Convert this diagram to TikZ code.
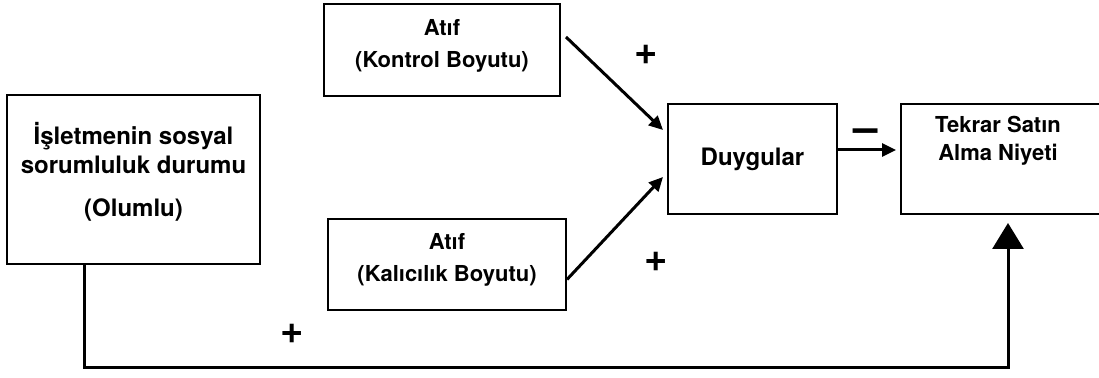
\documentclass[tikz,border=0pt]{standalone}
\usepackage{fontspec}
\setmainfont{TeX Gyre Heros}
\usetikzlibrary{arrows.meta}

\begin{document}
\begin{tikzpicture}[x=0.5pt,y=-0.5pt,
    box/.style={draw, line width=1pt, align=center, font=\fontsize{11}{14}\selectfont\bfseries},
    atif/.style={box, font=\fontsize{11}{16}\selectfont\bfseries, text depth=7pt},
    link/.style={line width=1.5pt, -{Triangle[length=7pt,width=6.5pt]}},
    sign/.style={anchor=base, font=\fontsize{20}{20}\selectfont\bfseries}]
    \useasboundingbox (0,0) rectangle (1099,378);

    % Boxes
    \node[box, minimum width=126.5pt, minimum height=84.5pt, font=\fontsize{12}{14.5}\selectfont\bfseries, text depth=10.4pt] (olumlu) at (133.5,179.5) {İşletmenin sosyal\\sorumluluk durumu\\[7pt](Olumlu)};
    \node[atif, minimum width=118pt, minimum height=46pt] (kontrol) at (442,50) {Atıf\\(Kontrol Boyutu)};
    \node[atif, minimum width=119pt, minimum height=45.5pt] (kalici) at (447,264.5) {Atıf\\(Kalıcılık Boyutu)};
    \node[box, minimum width=84.5pt, minimum height=55pt, font=\fontsize{12}{15}\selectfont\bfseries] (duygu) at (752.5,159) {Duygular};
    \node[box, minimum width=104pt, minimum height=55pt] (tekrar) at (1005,159) {};
    \node[box, draw=none] (tekrartext) at (998,141) {Tekrar Satın\\Alma Niyeti};

    % Arrows into Duygular
    \draw[link] ([shift={(5,-13)}]kontrol.east) -- ([shift={(-4,-29)}]duygu.west);
    \draw[link] ([shift={(0,15)}]kalici.east) -- ([shift={(-4,18)}]duygu.west);
    \draw[link] ([shift={(0,-9)}]duygu.east) -- ([shift={(-4,-9)}]tekrar.west);

    % Direct path to Tekrar Satin Alma
    \draw[line width=1.5pt, -{Triangle[length=13pt,width=15.5pt]}] ([shift={(78,0)}]olumlu.south west) -- ++(0,103) -| ([shift={(3,8)}]tekrar.south);

    % Signs
    \node[sign] (plusA) at (646,64.5) {+};
    \node[sign] (plusB) at (656,271.7) {+};
    \node[sign] (plusC) at (292,344) {+};
    \node[sign, font=\fontsize{22}{22}\selectfont\bfseries] (minus) at (866,142.5) {\textendash};
\end{tikzpicture}
\end{document}
